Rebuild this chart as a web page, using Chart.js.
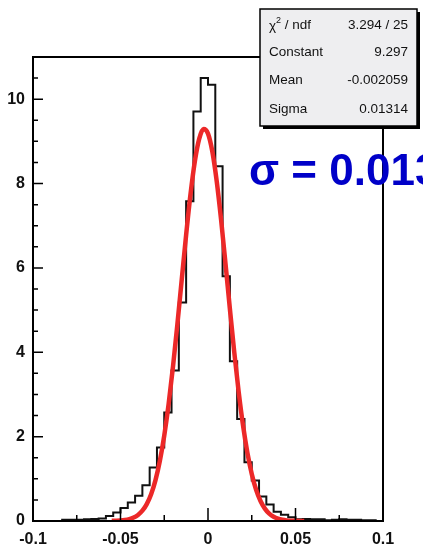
<!DOCTYPE html>
<html>
<head>
<meta charset="utf-8">
<script src="https://cdn.jsdelivr.net/npm/chart.js@4/dist/chart.umd.min.js"></script>
<style>
  html, body { margin: 0; padding: 0; background: #fff; }
  #wrap { width: 423px; height: 547px; position: relative; }
</style>
</head>
<body>
<div id="wrap"><canvas id="myChart"></canvas></div>
<script>
// histogram definition
var histMin = -0.1;
var histMax = 0.1;
var nBins = 48;
var binContents = [
    0, 0, 0, 0, 0.03, 0.03, 0.03, 0.04, 0.05, 0.06,
    0.12, 0.2, 0.31, 0.44, 0.6, 0.85, 1.27, 1.74, 2.57, 3.57,
    5.18, 7.58, 9.71, 10.5, 10.34, 8.41, 5.8, 3.79, 2.42, 1.39,
    0.96, 0.58, 0.39, 0.22, 0.15, 0.09, 0.04, 0.05, 0.04, 0.04,
    0.02, 0.03, 0.04, 0.03, 0.03, 0.02, 0.02, 0
];

// gaus fit curve
var fitX = [
    -0.055, -0.0525, -0.05, -0.0475, -0.045, -0.0425, -0.04, -0.0375, -0.035, -0.0325,
    -0.03, -0.0275, -0.025, -0.0225, -0.02, -0.0175, -0.015, -0.0125, -0.01, -0.0075,
    -0.005, -0.0025, 0, 0.0025, 0.005, 0.0075, 0.01, 0.0125, 0.015, 0.0175,
    0.02, 0.0225, 0.025, 0.0275, 0.03, 0.0325, 0.035, 0.0375, 0.04, 0.0425,
    0.045, 0.0475, 0.05, 0.0525, 0.055
];
var fitY = [
    0.003, 0.006, 0.012, 0.024, 0.045, 0.082, 0.144, 0.245, 0.401, 0.635,
    0.969, 1.427, 2.025, 2.772, 3.661, 4.661, 5.724, 6.780, 7.745, 8.533,
    9.067, 9.292, 9.184, 8.754, 8.048, 7.135, 6.102, 5.032, 4.003, 3.071,
    2.272, 1.621, 1.116, 0.741, 0.474, 0.293, 0.174, 0.100, 0.055, 0.030,
    0.015, 0.008, 0.004, 0.002, 0.001
];

// stats box
var statLabels = ['ndf', 'Constant', 'Mean', 'Sigma'];
var statValues = ['3.294 / 25', '9.297', '-0.002059', '0.01314'];
var sigmaText = '\u03c3 = 0.013';

// axes
var xMajorTicks = [-0.1, -0.05, 0, 0.05, 0.1];
var xMinorTicks = [-0.075, -0.025, 0.025, 0.075];
var yMajorTicks = [0, 2, 4, 6, 8, 10];
var yMinorTicks = [0.5, 1, 1.5, 2.5, 3, 3.5, 4.5, 5, 5.5, 6.5, 7, 7.5, 8.5, 9, 9.5, 10.5];

// build step points: left edge of each bin, plus the last right edge
var binWidth = (histMax - histMin) / nBins;
var histPoints = [];
for (var i = 0; i < nBins; i++) {
    histPoints.push({ x: histMin + i * binWidth, y: binContents[i] });
}
histPoints.push({ x: histMax, y: binContents[nBins - 1] });

var fitPoints = fitX.map(function (x, i) { return { x: x, y: fitY[i] }; });

var FONT = '"Liberation Sans", Arial, Helvetica, sans-serif';

// frame, inward ticks, stats box and the big sigma label
var rootDecor = {
    id: 'rootDecor',
    afterDatasetsDraw: function (chart) {
        var ctx = chart.ctx;
        var a = chart.chartArea;
        var xs = chart.scales.x, ys = chart.scales.y;
        ctx.save();
        ctx.strokeStyle = '#000';
        ctx.lineWidth = 2;
        ctx.strokeRect(a.left, a.top, a.right - a.left, a.bottom - a.top);

        ctx.lineWidth = 1.5;
        ctx.beginPath();
        xMajorTicks.forEach(function (v) {
            var px = xs.getPixelForValue(v);
            ctx.moveTo(px, a.bottom); ctx.lineTo(px, a.bottom - 13);
        });
        xMinorTicks.forEach(function (v) {
            var px = xs.getPixelForValue(v);
            ctx.moveTo(px, a.bottom); ctx.lineTo(px, a.bottom - 6);
        });
        yMajorTicks.forEach(function (v) {
            var py = ys.getPixelForValue(v);
            ctx.moveTo(a.left, py); ctx.lineTo(a.left + 10, py);
        });
        yMinorTicks.forEach(function (v) {
            var py = ys.getPixelForValue(v);
            ctx.moveTo(a.left, py); ctx.lineTo(a.left + 5, py);
        });
        ctx.stroke();
        ctx.restore();
    },
    afterDraw: function (chart) {
        var ctx = chart.ctx;
        ctx.save();
        // stats box with shadow
        var bx = 260, by = 9, bw = 157, bh = 117;
        ctx.fillStyle = '#000';
        ctx.fillRect(bx + 3, by + 3, bw, bh);
        ctx.fillStyle = '#eeeef0';
        ctx.fillRect(bx, by, bw, bh);
        ctx.strokeStyle = '#000';
        ctx.lineWidth = 1.5;
        ctx.strokeRect(bx, by, bw, bh);

        ctx.fillStyle = '#111';
        ctx.font = '13.5px ' + FONT;
        ctx.textBaseline = 'middle';
        var rowY = [25, 52, 80, 109];
        for (var i = 0; i < statLabels.length; i++) {
            ctx.textAlign = 'left';
            var lx = 269;
            if (i === 0) {
                ctx.fillText('\u03c7', lx, rowY[i] + 1);
                var w = ctx.measureText('\u03c7').width;
                ctx.font = '9px ' + FONT;
                ctx.fillText('2', lx + w, rowY[i] - 4);
                var w2 = ctx.measureText('2').width;
                ctx.font = '13.5px ' + FONT;
                ctx.fillText(' / ' + statLabels[i], lx + w + w2, rowY[i]);
            } else {
                ctx.fillText(statLabels[i], lx, rowY[i]);
            }
            ctx.textAlign = 'right';
            ctx.fillText(statValues[i], 408, rowY[i]);
        }

        // big sigma label
        ctx.fillStyle = 'rgb(0,0,200)';
        ctx.font = 'bold 44px ' + FONT;
        ctx.textAlign = 'left';
        ctx.textBaseline = 'alphabetic';
        ctx.fillText(sigmaText, 249, 185);
        ctx.restore();
    }
};

var ctx = document.getElementById('myChart').getContext('2d');
var myChart = new Chart(ctx, {
    type: 'line',
    data: {
        datasets: [{
            data: fitPoints,
            borderColor: 'rgb(236,40,40)',
            borderWidth: 4.5,
            pointRadius: 0,
            fill: false,
            cubicInterpolationMode: 'monotone',
            order: 0
        }, {
            data: histPoints,
            borderColor: '#111',
            borderWidth: 2,
            pointRadius: 0,
            fill: false,
            stepped: true,
            order: 1
        }]
    },
    options: {
        responsive: true,
        maintainAspectRatio: false,
        animation: false,
        layout: { padding: { top: 57, right: 40, left: 0, bottom: 0 } },
        plugins: { legend: { display: false }, tooltip: { enabled: false } },
        scales: {
            x: {
                type: 'linear',
                min: histMin,
                max: histMax,
                grid: { display: false, drawTicks: false },
                border: { display: false },
                afterBuildTicks: function (scale) {
                    scale.ticks = xMajorTicks.map(function (v) { return { value: v }; });
                },
                afterFit: function (scale) { scale.height = 26; },
                ticks: {
                    padding: 9,
                    color: '#111',
                    maxRotation: 0,
                    font: { family: FONT, size: 16, weight: 'bold' },
                    callback: function (v) { return String(Math.round(v * 100) / 100); }
                }
            },
            y: {
                min: 0,
                max: 11,
                grid: { display: false, drawTicks: false },
                border: { display: false },
                afterBuildTicks: function (scale) {
                    scale.ticks = yMajorTicks.map(function (v) { return { value: v }; });
                },
                afterFit: function (scale) { scale.width = 33; },
                ticks: {
                    padding: 8,
                    color: '#111',
                    font: { family: FONT, size: 16, weight: 'bold' }
                }
            }
        }
    },
    plugins: [rootDecor]
});
</script>
</body>
</html>
